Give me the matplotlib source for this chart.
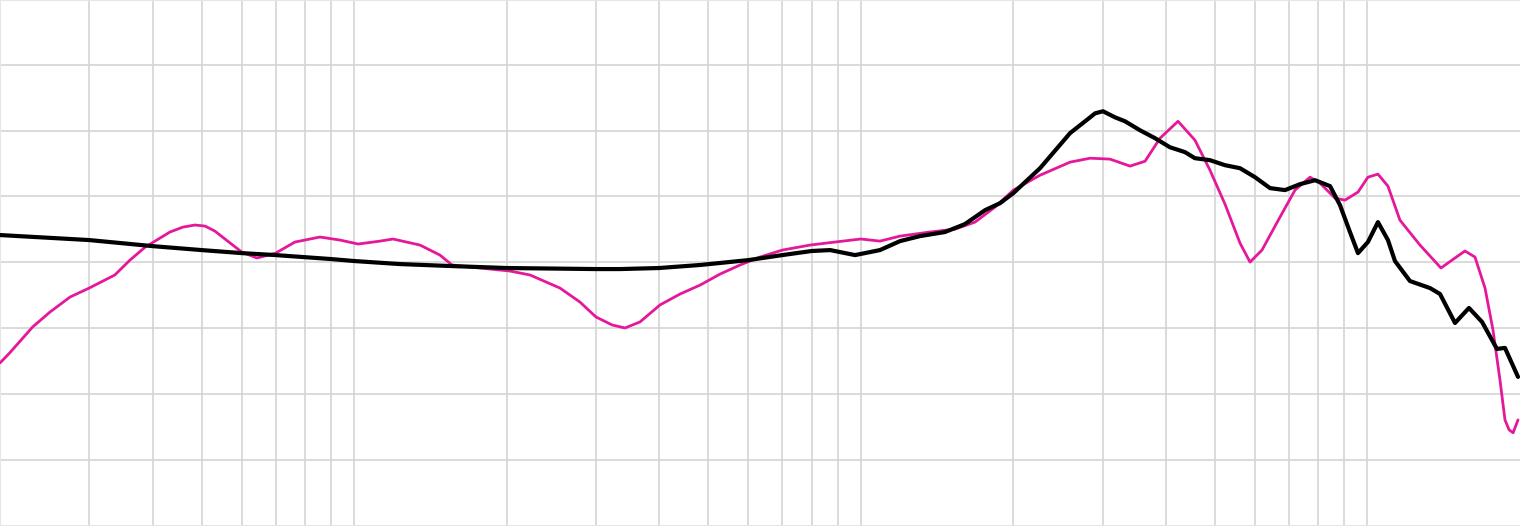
import numpy as np
import matplotlib
matplotlib.use('Agg')
import matplotlib.pyplot as plt

# Frequency response (Hz, dB)
target_freq = [20, 30, 40, 50, 60, 70, 90, 100, 123, 155, 200, 300, 335, 400, 482,
               600, 700, 800, 870, 974, 1091, 1195, 1309, 1466, 1605, 1759, 1883,
               2000, 2258, 2588, 2835, 2899, 3006, 3175, 3322, 3556, 3807, 4075, 4363,
               4565, 4888, 5233, 5603, 5998, 6422, 6875, 7360, 7880, 8436, 8826,
               9235, 9578, 10020, 10488, 10975, 11330, 12130, 13285, 13905, 14885,
               15860, 16830, 18010, 18680, 19820]
target_db = [2.07, 1.69, 1.23, 0.93, 0.70, 0.55, 0.25, 0.10, -0.13, -0.28, -0.43,
             -0.51, -0.51, -0.43, -0.20, 0.17, 0.55, 0.86, 0.93, 0.55, 0.93, 1.61,
             1.99, 2.30, 2.90, 3.96, 4.49, 5.25, 7.14, 9.80, 11.0, 11.3, 11.46, 11.0,
             10.7, 10.02, 9.42, 8.73, 8.36, 7.90, 7.75, 7.37, 7.14, 6.46, 5.63,
             5.48, 5.93, 6.23, 5.78, 4.34, 2.30, 0.70, 1.54, 3.05, 1.69, 0.10,
             -1.42, -1.95, -2.40, -4.60, -3.46, -4.52, -6.57, -6.49, -8.69]

measured_freq = [20, 20.9, 23.2, 25.1, 27.5, 30, 33.7, 36.1, 38.7, 43.3, 45.9, 48.5,
                 50.8, 53.1, 60, 64.3, 70, 76.4, 85.6, 93.8, 101.8, 112.5, 119.3,
                 134.9, 147.7, 156, 177.2, 203, 222.4, 254.8, 279, 300, 323, 342.4,
                 366.6, 401.5, 440, 482, 527.5, 577.7, 632.4, 700, 793.6, 889.2,
                 1000, 1091, 1195, 1369, 1534, 1680, 1840, 2000, 2258, 2588, 2835,
                 3103, 3399, 3639, 3896, 4227, 4565, 4888, 5233, 5603, 5864, 6191,
                 6719, 7194, 7702, 8059, 8627, 9028, 9578, 10020, 10488, 10975,
                 11590, 12695, 13965, 14885, 15572, 16300, 17060, 17690, 18260,
                 18680, 19030, 19380, 19820]
measured_db = [-7.63, -6.87, -4.90, -3.77, -2.63, -1.95, -0.96, 0.17, 1.16, 2.30,
               2.67, 2.83, 2.75, 2.37, 0.78, 0.33, 0.70, 1.54, 1.92, 1.69, 1.39,
               1.61, 1.77, 1.31, 0.55, -0.20, -0.43, -0.66, -0.96, -1.95, -3.01,
               -4.14, -4.75, -4.98, -4.52, -3.23, -2.40, -1.72, -0.89, -0.20, 0.40,
               0.93, 1.31, 1.54, 1.77, 1.61, 1.99, 2.30, 2.52, 3.05, 4.19, 5.48,
               6.61, 7.60, 7.90, 7.83, 7.30, 7.67, 9.42, 10.70, 9.27, 6.99, 4.42,
               1.46, 0.02, 0.93, 3.43, 5.48, 6.46, 6.01, 4.87, 4.72, 5.33, 6.46,
               6.69, 5.78, 3.20, 1.31, -0.43, 0.33, 0.86, 0.40, -1.95, -5.13,
               -8.92, -11.95, -12.7, -12.93, -11.95]

grid_freqs = [30, 40, 50, 60, 70, 80, 90, 100,
              200, 300, 400, 500, 600, 700, 800, 900, 1000,
              2000, 3000, 4000, 5000, 6000, 7000, 8000, 9000, 10000]
grid_db = [-15, -10, -5, 0, 5, 10, 15]

fig = plt.figure(figsize=(15.2, 5.26), dpi=100)
ax = fig.add_axes([0, 0, 1, 1])

ax.plot(measured_freq, measured_db, color='#e5189b', lw=2.0,
        solid_joinstyle='round', solid_capstyle='round', zorder=3)
ax.plot(target_freq, target_db, color='black', lw=3.0,
        solid_joinstyle='round', solid_capstyle='round', zorder=4)

ax.set_xscale('log')
ax.set_xlim(20, 20000)
ax.set_ylim(-20, 19.9)

ax.set_xticks(grid_freqs)
ax.set_xticks([], minor=True)
ax.set_yticks(grid_db)
ax.tick_params(which='both', length=0, labelbottom=False, labelleft=False)
ax.grid(True, color='#d4d4d4', lw=1.2)
ax.set_axisbelow(True)

for side in ['left', 'top', 'bottom']:
    ax.spines[side].set_color('#e6e6e6')
    ax.spines[side].set_linewidth(1.5)
ax.spines['right'].set_visible(False)

fig.savefig('out.png', dpi=100)
